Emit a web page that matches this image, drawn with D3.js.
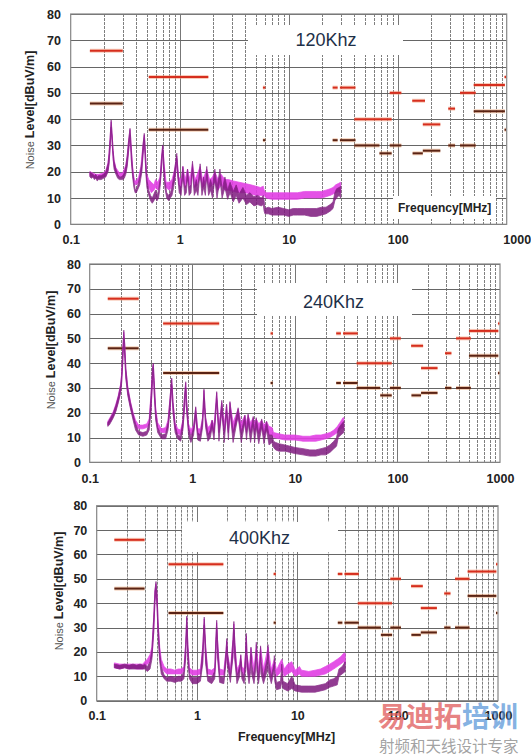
<!DOCTYPE html>
<html><head><meta charset="utf-8">
<script src="https://cdn.jsdelivr.net/npm/d3@7"></script>
<style>html,body{margin:0;padding:0;background:#fff;}svg{display:block;}</style>
</head><body>
<script>
// ---------- DATA ----------
const yTicks = [0,10,20,30,40,50,60,70,80];
const xTicks = [0.1,1,10,100,1000];
const panelLabels = ["120Khz","240Khz","400Khz"];
const xTitle = "Frequency[MHz]";
// limit segments: [fStart, fEnd, level]
const upperLimits = [[0.15,0.3,66],[0.52,1.83,56],[5.8,6.1,52],[25.3,28.1,52],[29.5,41,52],[40,88,40],[84.5,108,50],[136,178,47],[170,246,38],[291,336,44],[373,520,50],[498,963,53],[955,985,56]];
const lowerLimits = [[0.15,0.3,46],[0.52,1.83,36],[5.8,6.1,32],[25.3,28.1,32],[29.5,41,32],[40,68,30],[68,88,27],[84.5,108,30],[137,170,27],[170,246,28],[291,336,30],[373,520,30],[498,963,43],[955,985,36]];
// traces: [freq MHz, low dB, high dB]
const p120Magenta = [[0.15,18.5,20],[0.16,18,19.5],[0.17,17.5,19],[0.18,17.5,19],[0.2,18,19.5],[0.21,18.5,20.5],[0.22,20.5,23.5],[0.225,23.5,27.5],[0.23,29,33],[0.235,36.5,39],[0.24,31,34],[0.245,25,28],[0.25,22,24.5],[0.26,19.5,21.5],[0.28,18,19.5],[0.3,18,19.5],[0.32,19.5,22.5],[0.33,23,26],[0.34,28,32],[0.35,34,36],[0.36,25,29],[0.37,19,22],[0.38,16,18],[0.39,15,16.5],[0.4,15,16.5],[0.42,16,18],[0.44,19,22],[0.46,26,30],[0.473,32,34],[0.49,20,24],[0.5,16,19],[0.52,14,17],[0.55,12,16],[0.58,13,15],[0.6,14,17],[0.63,13,16],[0.66,15,18],[0.68,21,25],[0.698,28,29.8],[0.72,19,23],[0.75,14,16],[0.8,13,16],[0.85,14,17],[0.9,17,21],[0.94,23,26],[0.98,15,18],[1.03,14,17],[1.07,18,22],[1.12,14,17],[1.18,17,21],[1.24,14,17],[1.31,19,23],[1.38,14,17],[1.45,15,19],[1.54,18,22],[1.62,14,17],[1.7,15,19],[1.77,17,21],[1.88,14,17],[2.0,15,18],[2.1,16,20],[2.25,13,17],[2.4,15,19],[2.6,13,17],[2.8,13,17],[3.1,12.5,16.5],[3.5,12,16],[4,12,15.5],[4.5,11.5,15],[5,11,14.5],[5.5,11,14],[5.85,11,14.5],[5.95,11,13],[6.2,10,12],[7,9.5,12],[8,9.5,12],[9,9.5,12],[10,9.5,12],[12,9.5,12],[14,10,12.5],[16,10,12.5],[18,10,12.5],[20,10,12.5],[22,10.5,13],[24,11,13.5],[25.5,11.5,14],[27,12,15],[28.5,12.5,15.5],[30,12,16]];
const p120Purple = [[0.15,18,20],[0.155,17.5,19.5],[0.16,18,19],[0.165,17,18.5],[0.17,17.5,19],[0.175,16.5,18],[0.18,17,18.5],[0.19,17,18.5],[0.2,17.5,19],[0.21,18,20],[0.22,20,23],[0.225,23,27],[0.23,29,33],[0.235,37,39.7],[0.24,31,34],[0.245,25,28],[0.25,21,24],[0.26,19,21],[0.27,17.5,19],[0.28,17,18],[0.29,17,18],[0.3,17,18.5],[0.31,17.5,19.5],[0.32,19,22],[0.33,22,26],[0.34,28,32],[0.35,34,36.5],[0.355,30,33],[0.36,24,28],[0.37,18,21],[0.38,14,16],[0.39,12,13.5],[0.4,12,13],[0.41,13,14.5],[0.43,15,18],[0.45,20,24],[0.46,26,30],[0.473,32,34.6],[0.48,27,31],[0.49,19,23],[0.5,14,17],[0.52,11,13],[0.54,9,11],[0.56,8,10],[0.58,9,11.5],[0.6,10,13],[0.62,9,11],[0.64,10,13],[0.66,14,17],[0.68,21,25],[0.698,28.5,30.2],[0.71,22,26],[0.73,14,17],[0.76,10,12],[0.79,9,11],[0.82,10,12],[0.85,11,14],[0.88,14,18],[0.92,20,24],[0.94,25,27],[0.96,18,21],[0.99,12,15],[1.03,11,14],[1.07,19,22],[1.11,11,14],[1.15,12,15],[1.18,18,21],[1.22,11,14],[1.27,12,15],[1.31,21,24],[1.36,11,14],[1.42,13,17],[1.47,11,14],[1.54,20,23],[1.6,11,14],[1.66,14,18],[1.72,11,14],[1.77,19,22],[1.84,11,14],[1.92,13,17],[2.0,10,14],[2.1,17,21],[2.2,10,14],[2.34,17,21],[2.45,10,13],[2.6,14,18],[2.75,9.5,13],[2.9,12,16],[3.1,8.5,12.5],[3.3,11,15],[3.5,8,11.5],[3.8,10,14],[4.1,7.5,11],[4.4,8.5,12],[4.8,7,10.5],[5.2,7.5,11],[5.6,7,10],[5.85,7.5,11],[5.95,5,9],[6.05,4,6],[6.5,4,6.5],[7,3.5,6],[8,3.5,6.5],[9,3.5,6],[10,3,5.5],[11,3.5,6],[12,3.5,6],[14,3.5,6],[16,3,6],[18,3,6],[20,3.5,6.5],[22,4,6.5],[24,5,7.5],[25.5,6,8.5],[26.5,9,12],[27.5,10,13.5],[29,11,14],[30,10,14.5]];
const p240Magenta = [[0.15,15,16.5],[0.16,16.5,18.5],[0.17,18.5,20.5],[0.18,21,23.5],[0.19,24.5,27],[0.2,28.5,31.5],[0.205,33,36],[0.21,41,46],[0.215,49.5,52.5],[0.22,42,47],[0.225,34,38],[0.235,27.5,30.5],[0.25,22,24.5],[0.265,18,20],[0.28,15,17],[0.3,13.5,15],[0.33,13.5,15],[0.36,14,15.5],[0.38,15,17.5],[0.395,21,27],[0.41,33,38],[0.417,37,39.5],[0.425,28,33],[0.44,18,22],[0.46,13.5,16],[0.5,12,13.5],[0.55,12,14],[0.58,14,17],[0.61,22,27],[0.63,30,33.5],[0.65,20,24],[0.68,13.5,16],[0.72,11.5,13.5],[0.77,11,13],[0.81,14,17],[0.845,23,28],[0.863,29,32],[0.88,21,25],[0.92,13,15.5],[0.97,11,13],[1.03,12.5,15],[1.08,18,22],[1.13,11,13.5],[1.2,11,13.5],[1.26,15,18],[1.3,25,29],[1.35,15,18],[1.42,11,14],[1.5,12,15],[1.56,14,17],[1.63,12,15],[1.73,24,28],[1.82,12,15],[1.94,20,24],[2.05,12,15.5],[2.16,19,23],[2.25,12,15.5],[2.33,20,24],[2.5,12,16],[2.8,18,21.5],[3.0,12,16],[3.26,16,19],[3.38,12,16],[3.5,16,19],[3.7,12,16],[3.93,15,18],[4.05,12,16],[4.2,14.5,17.5],[4.45,11.5,15.5],[4.75,14,17],[5.0,11,15],[5.3,13,16.5],[5.6,11,14.5],[6.0,11,14],[6.2,10,12],[7,9.5,11.5],[8,9,11],[9,9,11],[10,9,11],[12,8.5,10.5],[14,8.5,10.5],[16,8.5,11],[18,9,11],[20,9.5,11.5],[22,10,12],[24,11,13],[26,12,14.5],[28,13.5,16.5],[29.5,14,18],[30,13,18]];
const p240Purple = [[0.15,14.5,16],[0.155,15,17],[0.16,16,18],[0.17,18,20],[0.18,20.5,23],[0.19,24,26.5],[0.2,28,31],[0.205,32,35],[0.21,40,45],[0.215,50,53.3],[0.22,42,47],[0.225,34,38],[0.235,27,30],[0.25,21.5,24],[0.265,17,19.5],[0.28,13,15.5],[0.3,11,12.5],[0.33,10.5,12],[0.36,11,12.5],[0.38,13,16],[0.395,20,26],[0.41,33,38],[0.417,38,40],[0.425,28,33],[0.44,17,21],[0.46,12,14],[0.5,9.5,11],[0.55,9.5,11.5],[0.58,13,16],[0.61,22,27],[0.63,31,34],[0.65,20,24],[0.68,12,15],[0.72,9.5,11],[0.77,8.5,10.5],[0.81,13,17],[0.845,23,28],[0.863,30,32.5],[0.88,21,25],[0.92,11,14],[0.97,8,10],[1.03,11,14],[1.08,19,22.4],[1.13,9,12],[1.2,8.5,11],[1.26,14,18],[1.3,26,29.5],[1.35,14,18],[1.42,8.5,11],[1.5,10,13],[1.56,14,17],[1.63,9,12],[1.73,25,28.5],[1.82,8.5,12],[1.94,21,25],[2.05,8,12],[2.16,20,23.5],[2.25,9,12],[2.33,21,24.5],[2.5,8,12],[2.8,19,22],[3.0,8,12],[3.26,16,19],[3.38,9,12],[3.5,16,19.5],[3.7,8,12],[3.93,15,18.5],[4.05,8,12],[4.2,14,18],[4.45,7.5,11.5],[4.75,14,17.5],[5.0,7.5,11],[5.3,13,16.5],[5.6,7,11],[6.0,8,11],[6.2,6,8.5],[6.5,5,8],[7,4.5,7.5],[8,4.5,7],[9,4,6.5],[10,3.5,6],[12,3,5.5],[14,2.5,5],[16,2.5,5],[18,3,5.5],[20,3,6],[22,4,7],[24,5.5,8.5],[25.5,6.5,10],[26.5,10,13.5],[28,11,15],[30,12,16.5]];
const p400Magenta = [[0.15,13.5,15.5],[0.17,13,15],[0.19,13.5,15],[0.21,13,15],[0.23,13.5,15],[0.25,13,15],[0.27,13,15],[0.29,13,15],[0.3,14,16],[0.32,15,17],[0.34,16,19],[0.355,18,22],[0.37,28,34],[0.38,40,45],[0.39,45,48],[0.4,38,43],[0.41,27,32],[0.425,18,22],[0.44,14,17],[0.47,12,14],[0.5,11,13],[0.55,11,13],[0.6,11,12.5],[0.65,11,13],[0.7,11,13],[0.74,12,14],[0.77,18,23],[0.79,30,34],[0.81,18,23],[0.84,11.5,13.5],[0.9,10.5,12.5],[1.0,10.5,12.5],[1.08,11,13],[1.14,16,22],[1.18,30,33.5],[1.22,16,22],[1.28,11,13],[1.4,10.5,12.5],[1.5,11,13.5],[1.54,18,25],[1.57,29,32],[1.6,18,25],[1.68,10.5,13],[1.85,10.5,12.5],[1.95,16,21],[1.98,21,24.5],[2.02,15,19],[2.15,10.5,13],[2.28,18,25],[2.33,28,31.5],[2.38,17,24],[2.5,10.5,13],[2.66,12,15],[2.73,16,18.5],[2.8,12,14],[2.95,10.5,13],[3.05,15,20],[3.1,23,26.5],[3.15,14,19],[3.3,10.5,13],[3.45,18,21.5],[3.7,10.5,13],[3.9,19,23],[4.1,10.5,13],[4.3,18,22],[4.6,10,13],[5.1,18,22],[5.5,10,13],[5.9,14,17],[6.2,10,12.5],[6.6,11,15],[7,13,17],[7.4,10,13],[8,11,15],[8.8,12,16],[9.5,10,12.5],[10.5,11,14],[11,10,12.5],[13,10,12],[15,10,12.5],[17,10.5,13],[19,11,14],[21,12,15],[23,13,16],[25,14,17],[27,15,18],[29,16,19.5],[30,15,19.5]];
const p400Purple = [[0.15,13.5,15],[0.17,13,14.5],[0.19,13.5,15],[0.21,13,14.5],[0.23,13,15],[0.25,13,14.5],[0.27,13,15],[0.29,13,14.5],[0.3,13,15],[0.32,12,14],[0.34,13,16],[0.355,17,21],[0.37,28,34],[0.38,40,45],[0.39,46,48.9],[0.4,38,43],[0.41,26,31],[0.425,16,20],[0.44,11,14],[0.47,9,10.5],[0.5,8,9.5],[0.55,8,10],[0.6,7.5,9.5],[0.65,8,10],[0.7,8,10],[0.74,9,12],[0.77,17,23],[0.79,31,34.7],[0.81,17,23],[0.84,9,11],[0.9,7,9.5],[1.0,7,9.5],[1.08,8,10],[1.14,15,22],[1.18,31,34.3],[1.22,15,22],[1.28,8,10],[1.4,7,9.5],[1.5,9,12],[1.54,18,25],[1.57,30,33],[1.6,18,25],[1.68,7.5,10],[1.85,7,9.5],[1.95,16,21],[1.98,22,25.5],[2.02,14,19],[2.15,7.5,10],[2.28,18,25],[2.33,29,32.5],[2.38,17,24],[2.5,7,10],[2.66,10,14],[2.73,16,18.9],[2.8,9,12],[2.95,7,10],[3.05,14,20],[3.1,24,27.6],[3.15,13,19],[3.3,7,10],[3.42,12,16],[3.45,19,22],[3.5,11,15],[3.7,7,10],[3.85,13,18],[3.9,20,24],[3.95,12,17],[4.1,7,10],[4.25,12,17],[4.3,19,22.5],[4.35,11,16],[4.6,7,10],[5.05,13,18],[5.1,19,23],[5.15,12,17],[5.5,7,10],[5.85,12,15],[5.9,15,18.5],[5.95,8,12],[6.2,4.5,7.5],[6.8,5,8],[7,8,15],[7.2,5,8],[8,4,7],[8.8,5,10],[9.5,4,6.5],[11,3.5,6],[13,3.5,6],[15,3.5,6],[17,4,6.5],[19,4.5,7],[21,5.5,8.5],[23,6,9],[25,6.5,10],[26,10,13],[28,11,14],[30,12,16]];

// ---------- LAYOUT ----------
const W = 531, H = 755;
const panels = [
  {x0:70.7, x1:506.7, y0:14,   y1:224.3, mag:p120Magenta, pur:p120Purple, label:panelLabels[0],
   box:[248,25,403,55], labelPos:[326,40], yTitle:[30,110], yPad:9.7, xPad:10.5, lastDx:10},
  {x0:89.7, x1:500,   y0:264,  y1:462.3, mag:p240Magenta, pur:p240Purple, label:panelLabels[1],
   box:[257,283,412,316], labelPos:[333.5,302], yTitle:[51,350], yPad:8.7, xPad:11.5, lastDx:0},
  {x0:96.7, x1:498,   y0:505.7,y1:700.7, mag:p400Magenta, pur:p400Purple, label:panelLabels[2],
   box:[182,522,338,552], labelPos:[259.5,538], yTitle:[59,591], yPad:9.4, xPad:10.3, lastDx:0}
];
const colMag = "#e23ee4", colPur = "#7e1a7e";

const svg = d3.select("body").append("svg").attr("width",W).attr("height",H)
  .style("font-family","'Liberation Sans', Arial, sans-serif");

panels.forEach((p,i)=>{
  const x = d3.scaleLog().domain([0.1,1000]).range([p.x0,p.x1]);
  const y = d3.scaleLinear().domain([0,80]).range([p.y1,p.y0]);
  const g = svg.append("g");
  const clipId = "clip"+i;
  g.append("clipPath").attr("id",clipId).append("rect")
    .attr("x",p.x0).attr("y",p.y0).attr("width",p.x1-p.x0).attr("height",p.y1-p.y0);

  // vertical grid
  const vt = x.ticks();
  g.selectAll(".vg").data(vt.filter(v=>v>0.1&&v<1000)).join("line")
    .attr("x1",d=>Math.round(x(d))+0.5).attr("x2",d=>Math.round(x(d))+0.5)
    .attr("y1",p.y0).attr("y2",p.y1)
    .attr("stroke",d=>xTicks.includes(d)?"#777":"#7f7f7f")
    .attr("stroke-width",1)
    .attr("stroke-dasharray",d=>xTicks.includes(d)?null:"3,1");
  // horizontal grid
  g.selectAll(".hg").data(yTicks).join("line")
    .attr("x1",p.x0).attr("x2",p.x1)
    .attr("y1",d=>Math.round(y(d))+0.5).attr("y2",d=>Math.round(y(d))+0.5)
    .attr("stroke","#666").attr("stroke-width",1);
  // frame
  g.append("rect").attr("x",p.x0).attr("y",p.y0).attr("width",p.x1-p.x0).attr("height",p.y1-p.y0)
    .attr("fill","none").attr("stroke","#858585").attr("stroke-width",1.2);

  // white label box
  g.append("rect").attr("x",p.box[0]).attr("y",p.box[1]).attr("width",p.box[2]-p.box[0])
    .attr("height",p.box[3]-p.box[1]).attr("fill","#fff");
  if(i===0){
    g.append("rect").attr("x",393).attr("y",196).attr("width",103).attr("height",23).attr("fill","#fff");
    g.append("text").attr("x",398).attr("y",211.5).attr("font-weight","bold").attr("font-size",12)
      .attr("fill","#222").text(xTitle);
  }

  // limit lines
  const drawLimits = (arr, halo, core) => {
    g.append("g").selectAll("line").data(arr).join("line")
      .attr("x1",d=>x(d[0])).attr("x2",d=>x(d[1])).attr("y1",d=>y(d[2])).attr("y2",d=>y(d[2]))
      .attr("stroke",halo).attr("stroke-width",4).attr("stroke-opacity",0.5);
    g.append("g").selectAll("line").data(arr).join("line")
      .attr("x1",d=>x(d[0])).attr("x2",d=>x(d[1])).attr("y1",d=>y(d[2])).attr("y2",d=>y(d[2]))
      .attr("stroke",core).attr("stroke-width",2);
  };
  drawLimits(upperLimits,"#f49a78","#d62e1e");
  drawLimits(lowerLimits,"#e8a070","#5a2314");

  // traces
  const area = d3.area().x(d=>x(d[0])).y0(d=>y(d[1])).y1(d=>y(d[2])).curve(d3.curveLinear);
  const tg = g.append("g").attr("clip-path",`url(#${clipId})`);
  tg.append("path").datum(p.mag).attr("d",area).attr("fill",colMag).attr("stroke",colMag)
    .attr("stroke-width",0.8).attr("stroke-linejoin","round").attr("opacity",0.9);
  tg.append("path").datum(p.pur).attr("d",area).attr("fill",colPur).attr("stroke",colPur)
    .attr("stroke-width",0.8).attr("stroke-linejoin","round").attr("opacity",0.85);

  // axes
  const ax = d3.axisBottom(x).tickValues(xTicks).tickSize(0).tickPadding(p.xPad)
    .tickFormat(d=>String(d));
  const axg = g.append("g").attr("transform",`translate(0,${p.y1})`).call(ax);
  axg.select(".domain").remove();
  axg.selectAll("text").attr("font-weight","bold").attr("font-size",12.5).attr("fill","#222")
    .attr("font-family","'Liberation Sans', Arial, sans-serif")
    .attr("dx",(d)=> d===1000 ? p.lastDx : 0);
  const ay = d3.axisLeft(y).tickValues(yTicks).tickSize(0).tickPadding(p.yPad);
  const ayg = g.append("g").attr("transform",`translate(${p.x0},0)`).call(ay);
  ayg.select(".domain").remove();
  ayg.selectAll("text").attr("font-weight","bold").attr("font-size",12.5).attr("fill","#222")
    .attr("font-family","'Liberation Sans', Arial, sans-serif");

  // y title
  const yt = g.append("text").attr("transform",`translate(${p.yTitle[0]},${p.yTitle[1]}) rotate(-90)`)
    .attr("text-anchor","middle").attr("dominant-baseline","central");
  yt.append("tspan").attr("font-size",11).attr("fill","#555").text("Noise ");
  yt.append("tspan").attr("font-size",12.5).attr("font-weight","bold").attr("fill","#222").text("Level[dBuV/m]");

  // panel label
  g.append("text").attr("x",p.labelPos[0]).attr("y",p.labelPos[1]).attr("text-anchor","middle")
    .attr("dominant-baseline","central").attr("font-size",18).attr("fill","#1e3048")
    .text(p.label);

  if(i===2){
    g.append("text").attr("x",286.5).attr("y",741).attr("text-anchor","middle")
      .attr("font-weight","bold").attr("font-size",12.5).attr("fill","#222").text(xTitle);
  }
});

// watermark
const wm = svg.append("g").attr("font-family","'Noto Sans CJK SC', sans-serif");
const wt = wm.append("text").attr("x",378).attr("y",727).attr("font-size",28).attr("font-weight","bold");
wt.append("tspan").attr("fill","#e05a5a").attr("fill-opacity",0.75).text("易迪拓");
wt.append("tspan").attr("fill","#4f8fd6").attr("fill-opacity",0.7).text("培训");
wm.append("text").attr("x",379).attr("y",752).attr("font-size",15.5).attr("fill","#8a8a8a")
  .attr("fill-opacity",0.8).text("射频和天线设计专家");
</script>
</body></html>
